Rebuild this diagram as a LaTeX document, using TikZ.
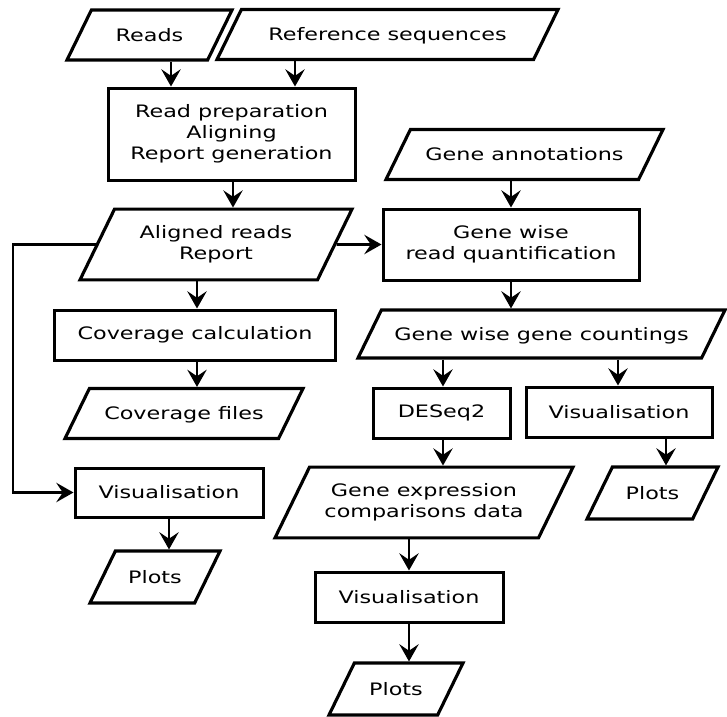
\documentclass[tikz,border=0pt]{standalone}
\usepackage{fontspec}
\setmainfont[FakeStretch=1.3]{DejaVu Sans}
\usetikzlibrary{shapes.geometric, arrows.meta}

\begin{document}
\begin{tikzpicture}[x=0.7pt, y=-0.7pt, line width=2pt,
        >={Stealth[length=12pt, width=13.5pt, inset=4.5pt]},
        iobox/.style={trapezium, draw, line width=2.2pt, trapezium left angle=64, trapezium right angle=116,
            trapezium stretches body, align=center, inner xsep=2pt, inner ysep=13.2pt,
            text height=8.6pt, text depth=0pt, font=\fontsize{12}{14.7}\selectfont},
        iobox2/.style={iobox, text height=, text depth=, inner ysep=11.6pt},
        procbox/.style={rectangle, draw, line width=2.1pt, align=center, inner sep=2pt, minimum height=35pt,
            font=\fontsize{12}{14.7}\selectfont}]
        \useasboundingbox (0,0) rectangle (727,716);
        \node[iobox, minimum width=115.5pt] (reads) at (149.5,35) {Reads};
        \node[iobox, minimum width=238.7pt] (refseq) at (387.5,34.5) {Reference sequences};
        \node[procbox, minimum width=172.9pt, minimum height=64.4pt] (prep) at (231.5,134) {Read preparation\\Aligning\\Report generation};
        \node[iobox2, minimum width=190.4pt] (aligned) at (216,244.5) {Aligned reads\\Report};
        \node[iobox, minimum width=193.9pt] (geneann) at (524.5,154.5) {Gene annotations};
        \node[procbox, minimum width=179.2pt, minimum height=49.7pt] (quant) at (511,244.5) {Gene wise\\read quantification};
        \node[iobox, minimum width=256.9pt, inner ysep=12.5pt] (counts) at (541.5,334) {Gene wise gene countings};
        \node[procbox, minimum width=196pt] (covcalc) at (195,335) {Coverage calculation};
        \node[iobox, minimum width=166.6pt] (covfiles) at (184,413.5) {Coverage files};
        \node[procbox, minimum width=95.9pt] (deseq) at (441.5,413) {DESeq2};
        \node[procbox, minimum width=130.2pt] (visR) at (619,412) {Visualisation};
        \node[iobox, minimum width=91.7pt, inner ysep=13.9pt] (plotsR) at (652.5,493) {Plots};
        \node[iobox2, minimum width=208.6pt] (exprdata) at (424,502.5) {Gene expression\\comparisons data};
        \node[procbox, minimum width=131.6pt, minimum height=34.3pt] (visL) at (169,492.5) {Visualisation};
        \node[iobox, minimum width=91pt, inner ysep=13.9pt] (plotsL) at (155,577) {Plots};
        \node[procbox, minimum width=131.6pt] (visB) at (409,597) {Visualisation};
        \node[iobox, minimum width=93.8pt, inner ysep=13.9pt] (plotsB) at (396,689) {Plots};
        \coordinate (bend) at (13,492.5);
        \draw[->] (reads.south -| 171,0) -- (prep.north -| 171,0);
        \draw[->] (refseq.south -| 295,0) -- (prep.north -| 295,0);
        \draw[->] (prep.south -| 233,0) -- (aligned.north -| 233,0);
        \draw[->] (geneann.south -| quant.north) -- (quant.north);
        \draw[->] (aligned.east) -- (quant.west);
        \draw[->] (quant.south) -- (counts.north -| quant.south);
        \draw[->] (aligned.south -| 197,0) -- (covcalc.north -| 197,0);
        \draw[->] (covcalc.south -| 197,0) -- (covfiles.north -| 197,0);
        \draw[->] (counts.south -| 443,0) -- (deseq.north -| 443,0);
        \draw[->] (counts.south -| 618,0) -- (visR.north -| 618,0);
        \draw[->] (deseq.south -| 443,0) -- (exprdata.north -| 443,0);
        \draw[->] (visR.south -| 666,0) -- (plotsR.north -| 666,0);
        \draw[->] (exprdata.south -| visB.north) -- (visB.north);
        \draw[->] (visB.south) -- (plotsB.north -| visB.south);
        \draw[->] (visL.south) -- (plotsL.north -| visL.south);
        \draw[->] (aligned.west) -| (bend) -- (visL.west);
    \end{tikzpicture}
\end{document}
